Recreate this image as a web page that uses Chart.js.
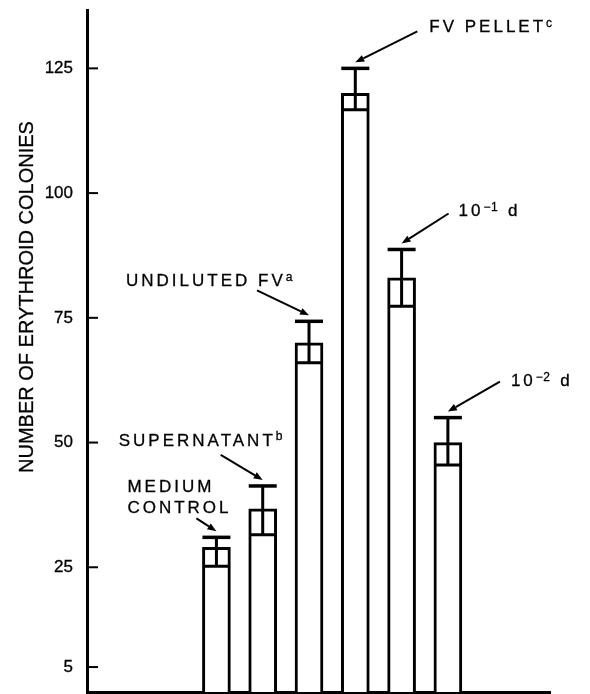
<!DOCTYPE html>
<html lang="en">
<head>
    <meta charset="UTF-8">
    <title>Erythroid colonies</title>
    <style>
        html, body { margin: 0; padding: 0; background: #fff; }
        #wrap { width: 590px; height: 694px; }
    </style>
</head>
<body>
    <div id="wrap"><canvas id="colonyChart"></canvas></div>

    <script src="https://cdn.jsdelivr.net/npm/chart.js"></script>
    <script>
        // values
        const categories = ['MEDIUM CONTROL', 'SUPERNATANT', 'UNDILUTED FV', 'FV PELLET', '10-1 d', '10-2 d'];
        const barPos = [1, 2, 3, 4, 5, 6];
        const colonies = [29, 36.7, 70, 120, 83, 50];
        const errUpper = [31, 41.3, 74.3, 125, 88.7, 55];
        const errLower = [25.2, 31.5, 66, 116.7, 77.3, 45.5];
        const yTicks = [5, 25, 50, 75, 100, 125];

        // label pieces: [text, isSuperscript]; offsets are from bar centre / cap
        const labels = [
            { lines: [[['MEDIUM', false]], [['CONTROL', false]]], dx: -89, dy: [-50, -29], arrow: [-20, -13] },
            { lines: [[['SUPERNATANT', false], ['b', true]]], dx: -144, dy: [-45], arrow: [-42, -25] },
            { lines: [[['UNDILUTED FV', false], ['a', true]]], dx: -183, dy: [-40], arrow: [-52, -25] },
            { lines: [[['FV PELLET', false], ['c', true]]], dx: 74, dy: [-41], arrow: [62, -31] },
            { lines: [[['10', false], ['\u2212' + '1', true], [' d', false]]], dx: 57, dy: [-38], arrow: [47, -30] },
            { lines: [[['10', false], ['\u2212' + '2', true], [' d', false]]], dx: 63, dy: [-36], arrow: [52, -30] }
        ];

        const FONT = '"Liberation Sans", Arial, sans-serif';

        function arrow(ctx, x1, y1, x2, y2) {
            const a = Math.atan2(y2 - y1, x2 - x1);
            const len = 9, w = 3.5;
            ctx.beginPath();
            ctx.moveTo(x1, y1);
            ctx.lineTo(x2 - Math.cos(a) * len, y2 - Math.sin(a) * len);
            ctx.lineWidth = 2;
            ctx.stroke();
            ctx.beginPath();
            ctx.moveTo(x2, y2);
            ctx.lineTo(x2 - Math.cos(a) * len - Math.sin(a) * w, y2 - Math.sin(a) * len + Math.cos(a) * w);
            ctx.lineTo(x2 - Math.cos(a) * len + Math.sin(a) * w, y2 - Math.sin(a) * len - Math.cos(a) * w);
            ctx.closePath();
            ctx.fill();
        }

        // fill + hairline stroke, a little heavier like the printed figure
        function heavyText(ctx, t, x, y) {
            ctx.fillText(t, x, y);
            ctx.lineWidth = 0.3;
            ctx.strokeText(t, x, y);
        }

        const figurePlugin = {
            id: 'figure',
            afterDatasetsDraw(chart) {
                const ctx = chart.ctx;
                const xs = chart.scales.x, ys = chart.scales.y;
                const area = chart.chartArea;
                ctx.save();
                ctx.strokeStyle = '#000';
                ctx.fillStyle = '#000';

                // inside tick marks
                ctx.lineWidth = 2;
                yTicks.forEach(v => {
                    const py = ys.getPixelForValue(v);
                    ctx.beginPath();
                    ctx.moveTo(area.left, py);
                    ctx.lineTo(area.left + 11, py);
                    ctx.stroke();
                });

                // error bars
                const meta = chart.getDatasetMeta(0);
                barPos.forEach((p, i) => {
                    const cx = xs.getPixelForValue(p);
                    const half = meta.data[i].width / 2;
                    const hi = ys.getPixelForValue(errUpper[i]);
                    const lo = ys.getPixelForValue(errLower[i]);
                    ctx.lineWidth = 3;
                    ctx.beginPath();
                    ctx.moveTo(cx, lo);
                    ctx.lineTo(cx, hi);
                    ctx.moveTo(cx - half + 1, lo);
                    ctx.lineTo(cx + half - 1, lo);
                    ctx.stroke();
                    ctx.lineWidth = 3.5;
                    ctx.beginPath();
                    ctx.moveTo(cx - half, hi);
                    ctx.lineTo(cx + half, hi);
                    ctx.stroke();

                    // label and arrow
                    const lab = labels[i];
                    const tipY = hi - 6;
                    arrow(ctx, cx + lab.arrow[0], tipY + lab.arrow[1], cx, tipY);
                    ctx.textBaseline = 'middle';
                    ctx.textAlign = 'left';
                    lab.lines.forEach((line, li) => {
                        let tx = cx + lab.dx;
                        const ty = hi + lab.dy[li];
                        line.forEach(([t, sup]) => {
                            ctx.font = (sup ? '12px ' : '17px ') + FONT;
                            ctx.letterSpacing = sup ? '0.5px' : '3px';
                            heavyText(ctx, t, tx, sup ? ty - 4 : ty);
                            tx += ctx.measureText(t).width + (sup ? 2 : 0);
                        });
                    });
                });

                // y axis title
                ctx.letterSpacing = '0px';
                ctx.font = '20px ' + FONT;
                ctx.textAlign = 'center';
                ctx.textBaseline = 'middle';
                ctx.translate(27, 297);
                ctx.rotate(-Math.PI / 2);
                heavyText(ctx, 'NUMBER OF ERYTHROID COLONIES', 0, 0);
                ctx.restore();
            }
        };

        const data = {
            datasets: [{
                label: 'Erythroid colonies',
                data: barPos.map((p, i) => ({ x: p, y: colonies[i] })),
                backgroundColor: '#fff',
                borderColor: '#000',
                borderWidth: 3,
                borderSkipped: 'bottom',
                barThickness: 28
            }]
        };

        const config = {
            type: 'bar',
            data: data,
            options: {
                responsive: true,
                maintainAspectRatio: false,
                animation: false,
                layout: { padding: { top: 10, right: 40, bottom: 2, left: 0 } },
                plugins: {
                    legend: { display: false },
                    tooltip: { enabled: false }
                },
                scales: {
                    x: {
                        type: 'linear',
                        min: -1.24,
                        max: 7.65,
                        afterFit: axis => {
                            axis.height = 0;
                            axis.paddingLeft = 0; axis.paddingRight = 0;
                        },
                        grid: { display: false, drawTicks: false },
                        ticks: { display: false },
                        border: { display: true, color: '#000', width: 3 }
                    },
                    y: {
                        min: 0,
                        max: 136.7,
                        afterBuildTicks: axis => { axis.ticks = yTicks.map(v => ({ value: v })); },
                        afterFit: axis => {
                            axis.width = 87;
                            axis.paddingTop = 0; axis.paddingBottom = 0;
                        },
                        grid: { display: false, drawTicks: false },
                        border: { display: true, color: '#000', width: 3 },
                        ticks: {
                            color: '#000',
                            padding: 14,
                            font: { family: FONT, size: 17 },
                            textStrokeColor: '#000',
                            textStrokeWidth: 0.3
                        }
                    }
                }
            },
            plugins: [figurePlugin]
        };

        const colonyChart = new Chart(document.getElementById('colonyChart'), config);
    </script>
</body>
</html>
